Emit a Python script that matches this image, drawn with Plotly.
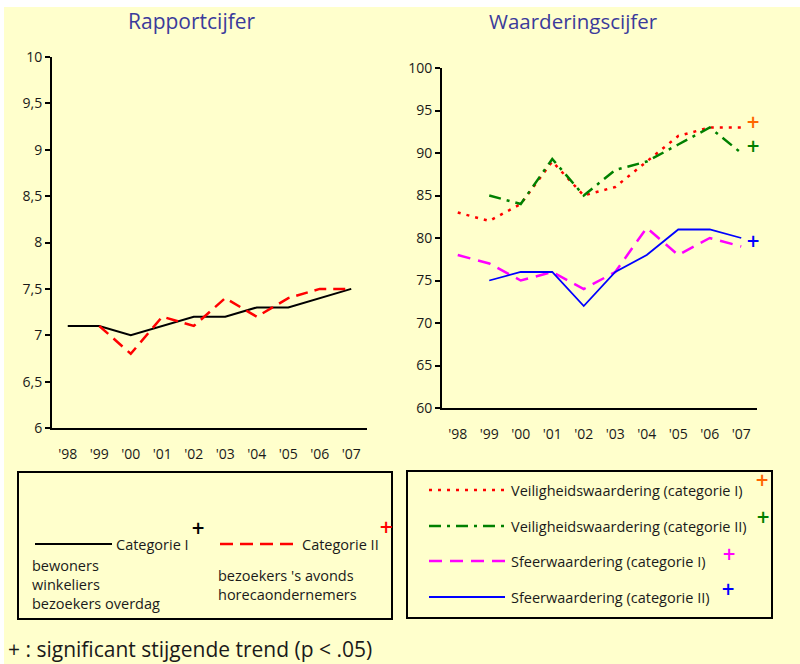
import plotly.graph_objects as go

years = ["'98", "'99", "'00", "'01", "'02", "'03", "'04", "'05", "'06", "'07"]

# Rapportcijfer
cat1 = [7.1, 7.1, 7.0, 7.1, 7.2, 7.2, 7.3, 7.3, 7.4, 7.5]
cat2 = [None, 7.1, 6.8, 7.2, 7.1, 7.4, 7.2, 7.4, 7.5, 7.5]

# Waarderingscijfer
veil1 = [83, 82, 84, 89, 85, 86, 89, 92, 93, 93]
veil2 = [None, 85, 84, 89.3, 85, 88, 89, 91, 93, 90]
sfeer1 = [78, 77, 75, 76, 74, 76, 81.2, 78, 80, 79]
sfeer2 = [None, 75, 76, 76, 72, 76, 78, 81, 81, 80]

W, H = 800, 664
FONT = "Open Sans"
def px(x): return x / W
def py(y): return 1 - y / H

fig = go.Figure()

fig.add_trace(go.Scatter(x=years, y=cat1, mode="lines", line=dict(color="black", width=2),
                         xaxis="x", yaxis="y", showlegend=False))
fig.add_trace(go.Scatter(x=years, y=cat2, mode="lines", line=dict(color="#FF0000", width=2.5, dash="12px,7px"),
                         xaxis="x", yaxis="y", showlegend=False))
fig.add_trace(go.Scatter(x=years, y=veil1, mode="lines", line=dict(color="#FF0000", width=2.5, dash="3px,6px"),
                         xaxis="x2", yaxis="y2", showlegend=False))
fig.add_trace(go.Scatter(x=years, y=veil2, mode="lines", line=dict(color="#008000", width=2.5, dash="12px,6px,3px,6px"),
                         xaxis="x2", yaxis="y2", showlegend=False))
fig.add_trace(go.Scatter(x=years, y=sfeer1, mode="lines", line=dict(color="#FF00FF", width=2.5, dash="13px,8px"),
                         xaxis="x2", yaxis="y2", showlegend=False))
fig.add_trace(go.Scatter(x=years, y=sfeer2, mode="lines", line=dict(color="#0000FF", width=1.8),
                         xaxis="x2", yaxis="y2", showlegend=False))

axis_common = dict(showline=True, linecolor="black", linewidth=2, showgrid=False, zeroline=False,
                   automargin=False, tickfont=dict(family=FONT, size=14, color="#1a1a1a"))
fig.update_layout(
    xaxis=dict(domain=[px(52), px(367)], anchor="y", type="category", range=[-0.5, 9.5],
               ticks="", ticklabelstandoff=12, **axis_common),
    yaxis=dict(domain=[py(428), py(57)], anchor="x", range=[6, 10], dtick=0.5,
               ticks="outside", ticklen=5, tickcolor="black", tickwidth=1.5, **axis_common),
    xaxis2=dict(domain=[px(442), px(757)], anchor="y2", type="category", range=[-0.5, 9.5],
                ticks="", ticklabelstandoff=12, **axis_common),
    yaxis2=dict(domain=[py(408), py(68)], anchor="x2", range=[60, 100], dtick=5,
                ticks="outside", ticklen=5, tickcolor="black", tickwidth=1.5, **axis_common),
)

shapes = []
shapes.append(dict(type="rect", xref="paper", yref="paper", x0=0, x1=1, y0=py(7), y1=1,
                   fillcolor="white", line=dict(width=0), layer="below"))
shapes.append(dict(type="rect", xref="paper", yref="paper", x0=0, x1=px(4), y0=0, y1=1,
                   fillcolor="white", line=dict(width=0), layer="below"))
shapes.append(dict(type="rect", xref="paper", yref="paper", x0=px(18), x1=px(392), y0=py(619), y1=py(472),
                   line=dict(color="black", width=2)))
shapes.append(dict(type="rect", xref="paper", yref="paper", x0=px(407), x1=px(772), y0=py(618), y1=py(471),
                   line=dict(color="black", width=2)))
def seg(x0, x1, y, color, width, dash):
    shapes.append(dict(type="line", xref="paper", yref="paper", x0=px(x0), x1=px(x1), y0=py(y), y1=py(y),
                       line=dict(color=color, width=width, dash=dash)))
seg(35, 112, 544, "black", 2, "solid")
seg(220, 296, 544, "#FF0000", 2.5, "13px,7px")
seg(429, 505, 490, "#FF0000", 2.5, "3px,6px")
seg(429, 505, 526, "#008000", 2.5, "12px,6px,3px,6px")
seg(429, 505, 561, "#FF00FF", 2.5, "13px,8px")
seg(429, 505, 597, "#0000FF", 1.8, "solid")
fig.update_layout(shapes=shapes)

ann = []
def text(x, y, s, size=14.5, color="#1a1a1a", anchor="left"):
    ann.append(dict(xref="paper", yref="paper", x=px(x), y=py(y), text=s, showarrow=False,
                    xanchor=anchor, yanchor="middle", align="left",
                    font=dict(family=FONT, size=size, color=color)))
def plus(x, y, color, xref="paper", yref="paper"):
    ann.append(dict(xref=xref, yref=yref, x=x, y=y, text="<b>+</b>", showarrow=False,
                    xanchor="center", yanchor="middle", font=dict(family="DejaVu Sans", size=17, color=color)))

text(192, 21, "Rapportcijfer", size=21, color="#3B3B9B", anchor="center")
text(573, 21, "Waarderingscijfer", size=20.5, color="#3B3B9B", anchor="center")

plus(9.53, 7.65, "#FF0000", "x", "y")
plus(10.33, 7.65, "black", "x", "y")
plus(9.37, 93.7, "#FF6600", "x2", "y2")
plus(9.37, 90.8, "#008000", "x2", "y2")
plus(9.37, 79.6, "#0000FF", "x2", "y2")
plus(10.13, 79.6, "#FF00FF", "x2", "y2")

text(114, 544, "Categorie I")
text(300, 544, "Categorie II")
plus(px(198), py(528), "black")
plus(px(386), py(527), "#FF0000")
text(30, 584, "bewoners<br>winkeliers<br>bezoekers overdag")
text(216, 585, "bezoekers 's avonds<br>horecaondernemers")

text(509, 490, "Veiligheidswaardering (categorie I)")
text(509, 526, "Veiligheidswaardering (categorie II)")
text(509, 561, "Sfeerwaardering (categorie I)")
text(509, 597, "Sfeerwaardering (categorie II)")
plus(px(762), py(480), "#FF6600")
plus(px(763), py(517), "#008000")
plus(px(729), py(554), "#FF00FF")
plus(px(728), py(589), "#0000FF")

text(6, 649, "+ : significant stijgende trend (p < .05)", size=21)

fig.update_layout(annotations=ann, width=W, height=H, autosize=False,
                  margin=dict(l=0, r=0, t=0, b=0, pad=0, autoexpand=False),
                  paper_bgcolor="#FFFFCC", plot_bgcolor="rgba(0,0,0,0)", separators=",.",
                  font=dict(family=FONT, color="#1a1a1a"), showlegend=False)

fig.write_html("out.html", config={"displayModeBar": False},
               post_script="document.body.style.margin='0px';document.body.style.overflow='hidden';")
